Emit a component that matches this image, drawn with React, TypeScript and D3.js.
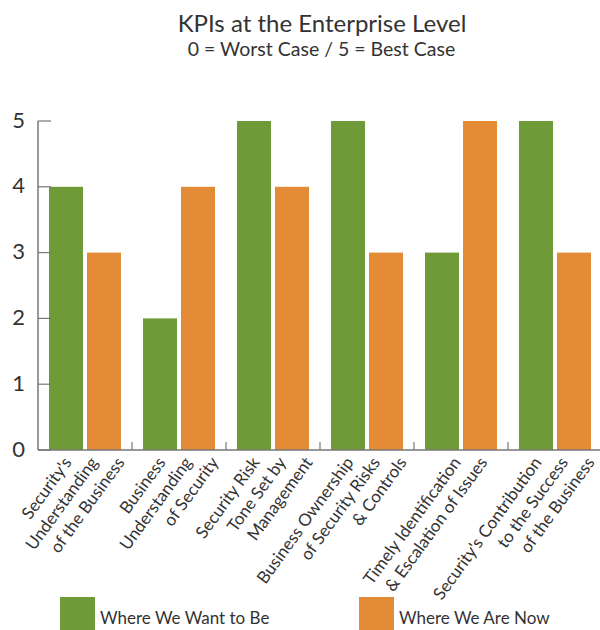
import React from "react";
import * as d3 from "d3";

const categories: string[][] = [
  ["Security's", "Understanding", "of the Business"],
  ["Business", "Understanding", "of Security"],
  ["Security Risk", "Tone Set by", "Management"],
  ["Business Ownership", "of Security Risks", "& Controls"],
  ["Timely Identification", "& Escalation of Issues"],
  ["Security's Contribution", "to the Success", "of the Business"],
];
const seriesNames = ["Where We Want to Be", "Where We Are Now"];
const wantValues = [4, 2, 5, 5, 3, 5];
const nowValues = [3, 4, 4, 3, 5, 3];
const yTicks = [0, 1, 2, 3, 4, 5];
const colors = ["#6f9a38", "#e38b36"];

const W = 600;
const H = 630;
const FONT = "Lato, 'Open Sans', sans-serif";

export default function App() {
  const left = 38;
  const right = 602;
  const y0 = 450;
  const y5 = 121;
  const x = d3.scaleBand<number>().domain(d3.range(categories.length)).range([left, right]);
  const inner = d3
    .scaleBand<number>()
    .domain([0, 1])
    .range([11, 83])
    .paddingInner(0.105);
  const y = d3.scaleLinear().domain([0, 5]).range([y0, y5]);
  const series = [wantValues, nowValues];

  return (
    <svg
      width={W}
      height={H}
      style={{ position: "absolute", left: 0, top: 0, background: "#fff" }}
      fontFamily={FONT}
    >
      <text x={322} y={32} textAnchor="middle" fontSize={24} fill="#333">
        KPIs at the Enterprise Level
      </text>
      <text x={321.5} y={56} textAnchor="middle" fontSize={19.5} fill="#333">
        0 = Worst Case / 5 = Best Case
      </text>

      {categories.map((_, i) =>
        series.map((vals, s) => (
          <rect
            key={`${i}-${s}`}
            x={(x(i) as number) + (inner(s) as number)}
            y={y(vals[i])}
            width={inner.bandwidth()}
            height={y0 - y(vals[i])}
            fill={colors[s]}
          />
        ))
      )}

      {/* y axis */}
      <line x1={left} x2={left} y1={y5} y2={y0} stroke="#777" strokeWidth={1.5} />
      {yTicks.map((t) => (
        <g key={t}>
          <line x1={left} x2={left + 13} y1={y(t)} y2={y(t)} stroke="#777" strokeWidth={1.2} />
          <text
            x={25}
            y={y(t)}
            dy="0.3em"
            textAnchor="end"
            fontSize={22}
            fill="#333"
          >
            {t}
          </text>
        </g>
      ))}
      {/* x axis */}
      <line x1={left} x2={W} y1={y0} y2={y0} stroke="#777" strokeWidth={1.5} />
      {categories.slice(1).map((_, i) => (
        <line
          key={i}
          x1={x(i + 1) as number}
          x2={x(i + 1) as number}
          y1={y0}
          y2={y0 - 8}
          stroke="#777"
          strokeWidth={1.2}
        />
      ))}

      {categories.map((lines, i) => {
        const cx = (x(i) as number) + x.bandwidth() / 2 + 9;
        const n = lines.length;
        return lines.map((ln, j) => (
          <text
            key={`${i}-${j}`}
            transform={`translate(${cx + (j - (n - 1) / 2) * 26.5},${459}) rotate(-54)`}
            textAnchor="end"
            dy="0.35em"
            fontSize={17}
            fill="#333"
          >
            {ln}
          </text>
        ));
      })}

      {/* legend */}
      {seriesNames.map((name, s) => (
        <g key={name} transform={`translate(${s === 0 ? 60 : 359},597)`}>
          <rect x={0} y={0} width={35} height={33} fill={colors[s]} />
          <text x={40} y={27} fontSize={17} fill="#333">
            {name}
          </text>
        </g>
      ))}
    </svg>
  );
}
